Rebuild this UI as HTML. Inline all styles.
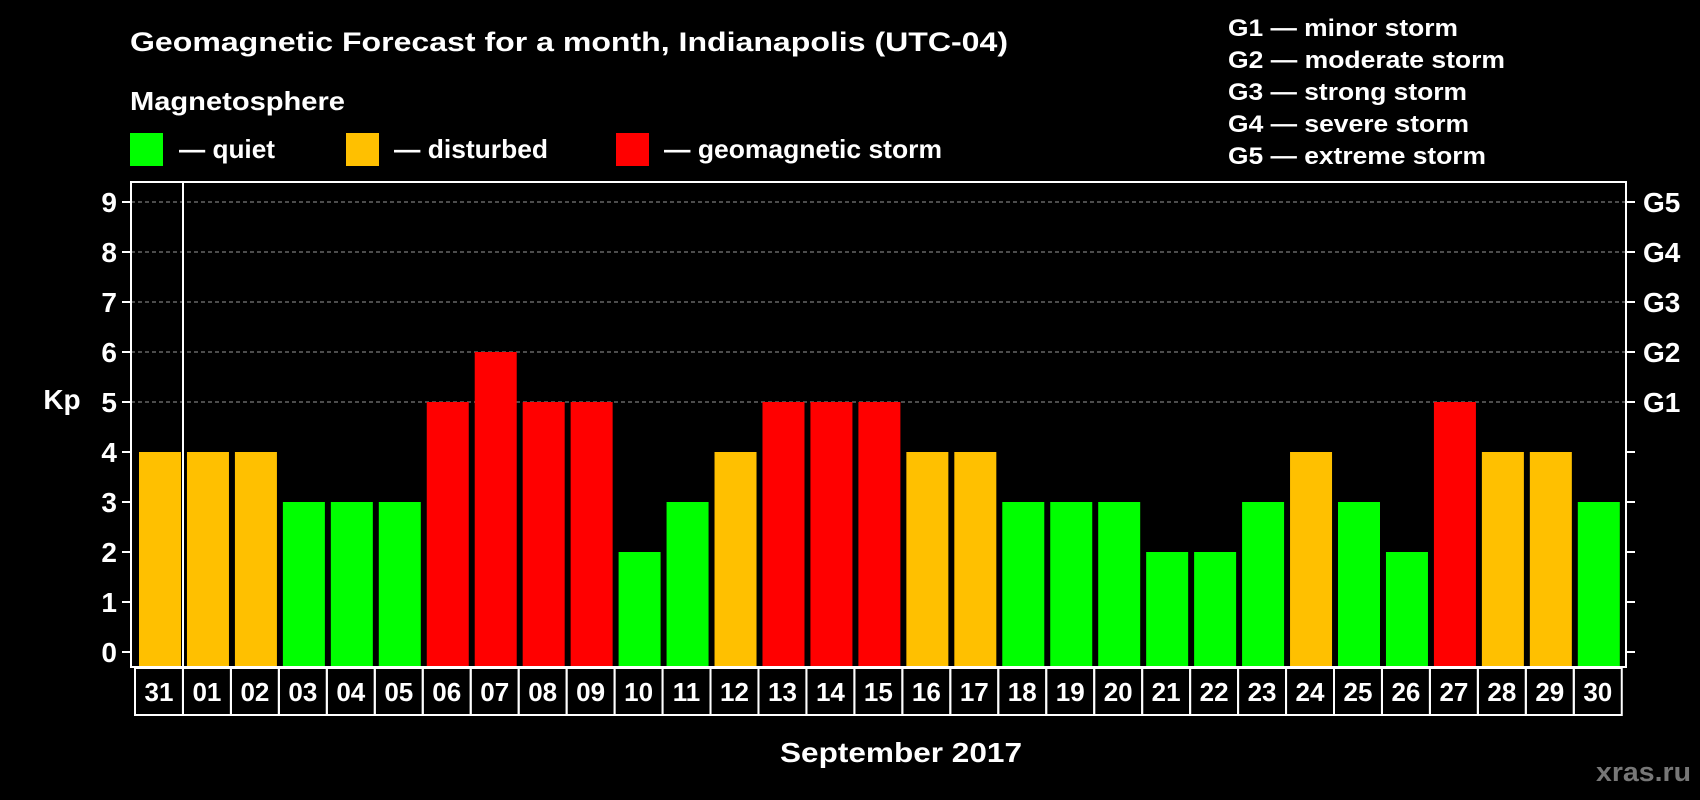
<!DOCTYPE html>
<html><head><meta charset="utf-8"><style>
html,body{margin:0;padding:0;background:#000;width:1700px;height:800px;overflow:hidden}
svg{display:block;font-family:"Liberation Sans",Arial,sans-serif;font-weight:bold}
</style></head><body>
<svg id="chart" width="1700" height="800" viewBox="0 0 1700 800">
<rect x="0" y="0" width="1700" height="800" fill="#000"/>
<text x="130" y="51" font-size="27" fill="#fff" textLength="878" lengthAdjust="spacingAndGlyphs">Geomagnetic Forecast for a month, Indianapolis (UTC-04)</text>
<text x="130" y="110" font-size="26" fill="#fff" textLength="215" lengthAdjust="spacingAndGlyphs">Magnetosphere</text>
<g>
<rect x="130" y="133" width="33" height="33" fill="#00ff00"/>
<text x="179" y="158" font-size="26" fill="#fff" textLength="96" lengthAdjust="spacingAndGlyphs">— quiet</text></g>
<g>
<rect x="346" y="133" width="33" height="33" fill="#ffc000"/>
<text x="394" y="158" font-size="26" fill="#fff" textLength="154" lengthAdjust="spacingAndGlyphs">— disturbed</text></g>
<g>
<rect x="616" y="133" width="33" height="33" fill="#ff0000"/>
<text x="664" y="158" font-size="26" fill="#fff" textLength="278" lengthAdjust="spacingAndGlyphs">— geomagnetic storm</text></g>
<g font-size="24" fill="#fff">
<text x="1228" y="36" textLength="230" lengthAdjust="spacingAndGlyphs">G1 — minor storm</text>
<text x="1228" y="68" textLength="277" lengthAdjust="spacingAndGlyphs">G2 — moderate storm</text>
<text x="1228" y="100" textLength="239" lengthAdjust="spacingAndGlyphs">G3 — strong storm</text>
<text x="1228" y="132" textLength="241" lengthAdjust="spacingAndGlyphs">G4 — severe storm</text>
<text x="1228" y="164" textLength="258" lengthAdjust="spacingAndGlyphs">G5 — extreme storm</text>
</g>
<g id="grid"></g>
<g id="bars"></g>
<g id="axes"></g>
<text x="62" y="409" font-size="28" fill="#fff" text-anchor="middle">Kp</text>
<text x="901" y="762" font-size="28" fill="#fff" text-anchor="middle" textLength="242" lengthAdjust="spacingAndGlyphs">September 2017</text>
<text x="1691" y="781" font-size="27" fill="#777" text-anchor="end" textLength="95" lengthAdjust="spacingAndGlyphs">xras.ru</text>
</svg>
<script>
const days = ["31","01","02","03","04","05","06","07","08","09","10","11","12","13","14","15","16","17","18","19","20","21","22","23","24","25","26","27","28","29","30"];
const kpValues = [4,4,4,3,3,3,5,6,5,5,2,3,4,5,5,5,4,4,3,3,3,2,2,3,4,3,2,5,4,4,3];
const yTicks = [0,1,2,3,4,5,6,7,8,9];
const gLabels = ["","","","","","G1","G2","G3","G4","G5"];

const NS="http://www.w3.org/2000/svg";
const plotL=131, plotR=1626, plotT=182, plotB=667;
const y0=652, unit=50;
const pitch=47.96, firstBar=139, barW=42;
function yS(v){return y0-v*unit;}
function xS(i){return firstBar+i*pitch;}
function mk(tag,attrs,parent){const e=document.createElementNS(NS,tag);for(const k in attrs)e.setAttribute(k,attrs[k]);parent.appendChild(e);return e;}
function color(v){return v>=5?"#ff0000":(v>=4?"#ffc000":"#00ff00");}

const grid=document.getElementById('grid'), bars=document.getElementById('bars'), axes=document.getElementById('axes');
yTicks.forEach(t=>{
  if(t>=5){
    const l=mk('line',{x1:plotL,x2:plotR,y1:yS(t),y2:yS(t),stroke:'#999','stroke-width':1,'stroke-dasharray':'4,3'},grid);
    
    
  }
  const tl=mk('line',{x1:122,x2:plotL,y1:yS(t),y2:yS(t),stroke:'#fff','stroke-width':2},axes);
  
  
  const tx=mk('text',{x:117,y:yS(t)+10,'font-size':28,fill:'#fff','text-anchor':'end'},axes);
  tx.textContent=t;
  
  
  const tr=mk('line',{x1:plotR,x2:1635,y1:yS(t),y2:yS(t),stroke:'#fff','stroke-width':2},axes);
  
  
  if(gLabels[t]){
    const g=mk('text',{x:1643,y:yS(t)+10,'font-size':28,fill:'#fff'},axes);
    g.textContent=gLabels[t];
    
    
  }
});
kpValues.forEach((v,i)=>{
  const r=mk('rect',{x:xS(i),y:yS(v),width:barW,height:plotB-1-yS(v),fill:color(v)},bars);
  
  
});
const frame=mk('rect',{x:plotL,y:plotT,width:plotR-plotL,height:plotB-plotT,fill:'none',stroke:'#fff','stroke-width':2},axes);


const div=mk('line',{x1:183,x2:183,y1:plotT,y2:plotB,stroke:'#fff','stroke-width':2},axes);


days.forEach((d,i)=>{
  const bx=135+i*pitch;
  const r=mk('rect',{x:bx,y:668,width:pitch,height:47,fill:'none',stroke:'#fff','stroke-width':2},axes);
  
  
  const t=mk('text',{x:bx+pitch/2,y:701,'font-size':26,fill:'#fff','text-anchor':'middle'},axes);
  t.textContent=d;
  
  
});
</script>
</body></html>
